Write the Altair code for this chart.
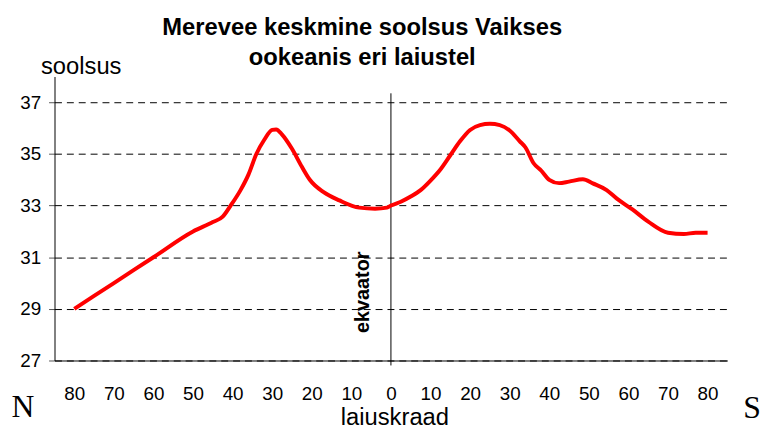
import altair as alt
import pandas as pd

# latitude: negative = north (N), positive = south (S)
latitude = [-80, -70, -60, -50, -45, -42.5, -40.5, -38, -36, -34, -32, -30, -29, -27.5,
            -25, -22.5, -20.5, -17, -13, -8, -4, -1, 0, 2.5, 5, 7.5, 10, 12.5, 15, 17.5,
            20, 22.5, 25, 27.5, 30, 32.5, 34, 36, 38, 40, 42.5, 45, 48.5, 51, 54.5, 57,
            61, 65, 70, 74, 77, 80]
salinity = [29.0, 30.0, 31.0, 32.0, 32.36, 32.57, 33.0, 33.6, 34.2, 35.0, 35.55, 35.93, 35.95, 35.75,
            35.2, 34.5, 34.0, 33.52, 33.2, 32.92, 32.88, 32.92, 33.0, 33.15, 33.35, 33.6, 33.97, 34.4, 34.95, 35.5,
            35.93, 36.12, 36.17, 36.12, 35.91, 35.5, 35.25, 34.65, 34.35, 34.0, 33.87, 33.93, 34.02, 33.86, 33.6, 33.28,
            32.85, 32.38, 31.95, 31.9, 31.95, 31.95]
x_ticks = [-80, -70, -60, -50, -40, -30, -20, -10, 0, 10, 20, 30, 40, 50, 60, 70, 80]
y_ticks = [27, 29, 31, 33, 35, 37]

title_lines = ["Merevee keskmine soolsus Vaikses", "ookeanis eri laiustel"]
y_label = "soolsus"
x_label = "laiuskraad"
equator_label = "ekvaator"

df = pd.DataFrame({"lat": latitude, "sal": salinity})

W, H = 680, 287
FONT = "Liberation Sans"

x_scale = alt.Scale(domain=[-85, 85], nice=False, zero=False)
y_scale = alt.Scale(domain=[27, 38], nice=False, zero=False)

base = alt.Chart(df)

line = base.mark_line(color="#ff0000", strokeWidth=4, interpolate="monotone").encode(
    x=alt.X("lat:Q", scale=x_scale,
            axis=alt.Axis(values=x_ticks, labelExpr="abs(datum.value)", title=None,
                          ticks=False, tickSize=0, grid=False, labelPadding=24,
                          labelFontSize=19, labelFont=FONT, labelColor="#000",
                          domainColor="#000", domainWidth=1, labelFlush=False)),
    y=alt.Y("sal:Q", scale=y_scale,
            axis=alt.Axis(values=y_ticks, title=None, tickSize=6, tickColor="#555",
                          labelPadding=8, labelFontSize=19, labelFont=FONT, labelColor="#000",
                          domainColor="#000", domainWidth=1,
                          grid=True, gridColor="#000", gridDash=[7, 5], gridWidth=1)),
)

equator = alt.Chart(pd.DataFrame({"lat": [0]})).mark_rule(color="#000", strokeWidth=1).encode(
    x=alt.X("lat:Q", scale=x_scale),
    y=alt.value(17), y2=alt.value(292),
)

def txt(t, x, y, size, bold=False, font=FONT, angle=0, align="center", baseline="alphabetic"):
    kw = dict(text=t, fontSize=size, font=font, color="#000", align=align, baseline=baseline)
    if bold:
        kw["fontWeight"] = "bold"
    if angle:
        kw["angle"] = angle
    return alt.Chart(pd.DataFrame({"a": [0]})).mark_text(**kw).encode(
        x=alt.value(x), y=alt.value(y))

texts = [
    txt(title_lines[0], 311, -42, 24, bold=True),
    txt(title_lines[1], 311, -12, 24, bold=True),
    txt(y_label, 27, -3, 24),
    txt(x_label, 344, 352, 24),
    txt(equator_label, 318, 218, 20, bold=True, angle=270),
    txt("N", -32, 344, 32, font="Liberation Serif"),
    txt("S", 705, 345, 32, font="Liberation Serif"),
]

chart = alt.layer(equator, line, *texts).properties(
    width=W, height=H,
    autosize=alt.AutoSizeParams(type="none"),
    padding={"left": 47, "top": 67, "right": 35, "bottom": 67},
).configure_view(stroke=None)

chart.save("out.html", embed_options={"renderer": "svg", "actions": False})
